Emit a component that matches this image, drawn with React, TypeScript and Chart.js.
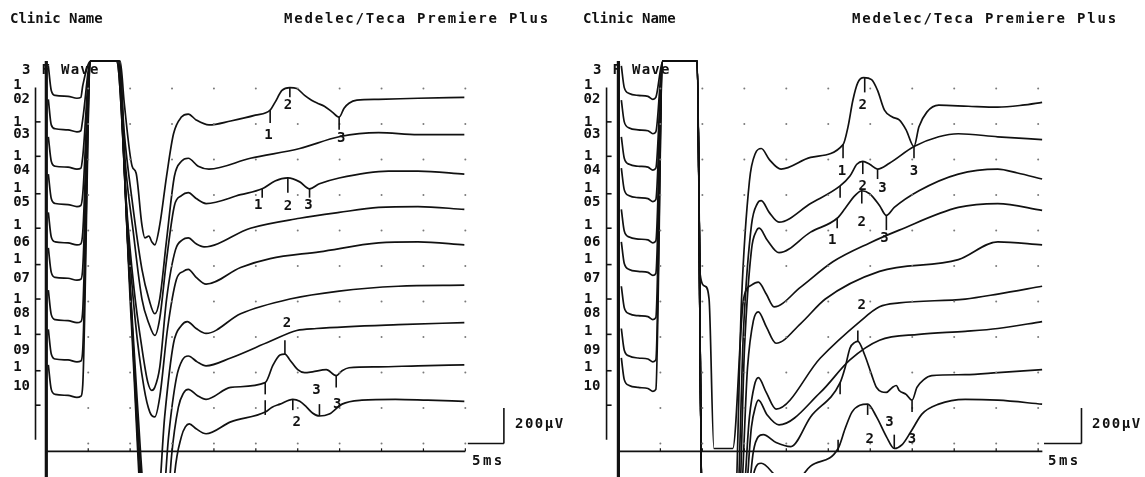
import React, { useEffect, useRef } from "react";
import { Chart, registerables } from "chart.js";
Chart.register(...registerables);

type P = [number, number];
type Marker = { t: number; from: number; to: number; label: string; lt: number; lv: number };

// ---------- LEFT RECORDING (time in ms, amplitude in µV on the stacked display) ----------
const leftTrace02: P[] = [[0.24,2127],[0.59,1989],[1.06,1961],[2.59,1956],[3.65,1945],[4.12,1950],[4.35,2017],[5.29,2155],[8.82,2155],[9.29,1922],[10.24,1562],[10.71,1524],[11.41,1230],[11.76,1158],[12.24,1169],[12.59,1136],[12.94,1119],[13.53,1230],[14.35,1507],[15.18,1745],[16.12,1839],[16.94,1856],[17.88,1823],[19.41,1795],[22.0,1817],[24.94,1850],[26.71,1878],[27.29,1922],[28.12,1989],[29.06,2005],[29.88,2000],[30.82,1961],[31.65,1934],[32.35,1917],[33.18,1900],[34.12,1867],[34.94,1839],[35.53,1889],[36.12,1917],[37.06,1934],[39.65,1939],[44.35,1945],[49.88,1950]];
const leftTrace03: P[] = [[0.24,1939],[0.59,1795],[1.06,1773],[2.59,1767],[3.65,1756],[4.12,1762],[4.35,1828],[5.29,2155],[8.71,2155],[9.29,1756],[10.24,1368],[11.41,981],[12.24,814],[12.94,731],[13.53,814],[14.35,1147],[15.29,1507],[16.12,1590],[16.94,1607],[18.12,1562],[19.41,1546],[24.35,1607],[30.24,1662],[34.94,1728],[39.65,1751],[44.35,1740],[49.88,1740]];
const leftTrace04: P[] = [[0.24,1728],[0.59,1590],[1.06,1562],[2.59,1557],[3.65,1546],[4.12,1551],[4.35,1618],[5.29,2155],[8.71,2155],[9.41,1590],[10.35,1202],[11.41,814],[12.24,676],[12.94,609],[13.53,704],[14.35,1036],[15.29,1341],[16.12,1396],[16.94,1413],[17.88,1380],[19.06,1352],[23.18,1402],[25.76,1435],[27.29,1479],[28.82,1496],[30.24,1474],[31.41,1435],[32.59,1463],[34.94,1496],[40.82,1535],[44.35,1535],[49.88,1518]];
const leftTrace05: P[] = [[0.24,1518],[0.59,1380],[1.06,1352],[2.59,1346],[3.65,1335],[4.12,1341],[4.35,1407],[5.29,2155],[8.59,2155],[9.53,1368],[10.47,870],[11.41,537],[12.12,343],[12.59,299],[12.94,316],[13.53,427],[14.35,814],[15.41,1091],[16.24,1147],[16.94,1158],[17.88,1125],[18.82,1108],[24.35,1213],[30.24,1269],[34.94,1302],[39.65,1330],[44.35,1335],[49.88,1319]];
const leftTrace06: P[] = [[0.24,1302],[0.59,1163],[1.06,1136],[2.59,1130],[3.65,1119],[4.12,1125],[4.35,1191],[5.29,2155],[8.59,2155],[9.65,1258],[10.59,704],[11.65,316],[12.35,177],[12.94,150],[13.53,260],[14.47,648],[15.53,925],[16.35,970],[16.94,981],[17.88,936],[19.06,898],[23.18,992],[26.71,1042],[32.59,1080],[39.65,1130],[44.35,1136],[49.88,1119]];
const leftTrace07: P[] = [[0.24,1102],[0.59,964],[1.06,936],[2.59,931],[3.65,920],[4.12,925],[4.35,992],[5.29,2155],[8.47,2155],[9.76,1091],[10.82,260],[12.0,-404],[13.18,-404],[14.12,150],[15.18,565],[16.12,665],[16.82,687],[17.88,648],[19.06,620],[23.18,731],[29.06,814],[34.94,859],[42.0,886],[49.88,892]];
const leftTrace08: P[] = [[0.24,864],[0.59,726],[1.06,698],[2.59,692],[3.65,681],[4.12,687],[4.35,753],[5.29,2155],[8.47,2155],[9.88,981],[11.06,-17],[12.24,-626],[13.41,-626],[14.59,39],[15.53,371],[16.24,471],[16.94,493],[18.0,460],[19.06,438],[22.0,482],[26.71,576],[29.88,637],[32.24,648],[42.0,670],[49.88,681]];
const leftTrace09: P[] = [[0.24,643],[0.59,504],[1.06,476],[2.59,471],[3.65,460],[4.12,465],[4.35,532],[5.29,2155],[8.35,2155],[10.0,870],[11.29,-294],[12.47,-848],[13.76,-848],[14.94,-72],[15.76,205],[16.35,283],[16.94,305],[18.0,271],[19.06,249],[22.0,316],[26.12,343],[27.06,443],[27.88,499],[28.47,504],[29.06,471],[30.0,416],[30.82,399],[31.76,404],[33.41,416],[34.59,382],[35.29,410],[36.12,427],[39.65,432],[44.35,438],[49.88,443]];
const leftTrace10: P[] = [[0.24,443],[0.59,305],[1.06,277],[2.59,271],[3.65,260],[4.12,266],[4.35,332],[5.29,2155],[8.35,2155],[10.12,704],[11.53,-571],[12.71,-1069],[14.12,-1069],[15.29,-183],[16.12,39],[16.59,94],[17.06,111],[17.88,83],[19.06,55],[22.0,122],[26.12,177],[26.94,205],[27.88,222],[29.41,249],[30.24,238],[31.06,205],[31.76,172],[32.59,155],[33.76,166],[35.29,222],[37.65,244],[41.65,249],[45.53,244],[49.88,238]];
const leftTraces = [leftTrace02, leftTrace03, leftTrace04, leftTrace05, leftTrace06, leftTrace07, leftTrace08, leftTrace09, leftTrace10];

const leftMarkers: Marker[] = [
  { t: 26.71, from: 1878, to: 1806, label: "1", lt: 26.5, lv: 1735 },
  { t: 29.06, from: 2005, to: 1950, label: "2", lt: 28.82, lv: 1906 },
  { t: 34.94, from: 1839, to: 1767, label: "3", lt: 35.18, lv: 1717 },
  { t: 25.76, from: 1435, to: 1385, label: "1", lt: 25.29, lv: 1341 },
  { t: 28.82, from: 1496, to: 1413, label: "2", lt: 28.82, lv: 1335 },
  { t: 31.41, from: 1435, to: 1385, label: "3", lt: 31.29, lv: 1341 },
  { t: 26.12, from: 343, to: 277, label: "", lt: 0, lv: 0 },
  { t: 28.47, from: 504, to: 582, label: "2", lt: 28.71, lv: 676 },
  { t: 34.59, from: 382, to: 316, label: "3", lt: 34.71, lv: 222 },
  { t: 26.12, from: 244, to: 161, label: "", lt: 0, lv: 0 },
  { t: 29.41, from: 249, to: 188, label: "2", lt: 29.88, lv: 122 },
  { t: 32.59, from: 155, to: 222, label: "3", lt: 32.24, lv: 299 },
];

// ---------- RIGHT RECORDING ----------
const rightTrace02: P[] = [[0.35,2127],[0.7,2005],[1.29,1972],[2.35,1961],[3.52,1956],[4.11,1939],[4.46,1950],[5.28,2155],[9.39,2155],[9.98,-404],[13.85,-404],[14.67,814],[15.61,1479],[16.31,1634],[17.02,1662],[17.96,1601],[19.37,1546],[22.89,1612],[26.76,1684],[27.35,1784],[27.93,1934],[28.52,2033],[29.23,2061],[30.16,2050],[30.87,1989],[31.69,1878],[32.63,1839],[33.45,1823],[34.27,1767],[35.21,1673],[35.8,1784],[36.74,1867],[38.15,1906],[41.67,1900],[45.19,1895],[48.12,1906],[50.47,1922]];
const rightTrace03: P[] = [[0.35,1934],[0.7,1812],[1.29,1778],[2.35,1767],[3.52,1762],[4.11,1745],[4.46,1756],[5.28,2155],[9.39,2155],[9.98,-404],[14.08,-404],[14.91,648],[15.85,1230],[16.55,1352],[17.02,1368],[17.96,1302],[19.13,1247],[22.89,1352],[26.41,1451],[27.58,1507],[28.4,1573],[29.11,1590],[29.93,1573],[30.87,1546],[32.28,1579],[35.21,1673],[38.15,1728],[40.49,1745],[45.19,1728],[50.47,1712]];
const rightTrace04: P[] = [[0.35,1728],[0.7,1607],[1.29,1573],[2.35,1562],[3.52,1557],[4.11,1540],[4.46,1551],[5.28,2155],[9.39,2155],[9.98,-404],[14.32,-404],[15.02,537],[15.85,1091],[16.43,1197],[16.78,1213],[17.72,1147],[19.13,1075],[22.89,1191],[26.06,1269],[27.0,1324],[28.17,1396],[28.99,1424],[29.93,1407],[31.1,1341],[31.92,1285],[32.86,1330],[35.8,1424],[40.49,1518],[45.19,1546],[47.54,1524],[50.47,1490]];
const rightTrace05: P[] = [[0.35,1551],[0.7,1429],[1.29,1396],[2.35,1385],[3.52,1380],[4.11,1363],[4.46,1374],[5.28,2155],[9.39,2155],[9.74,953],[10.33,886],[10.8,814],[11.38,-28],[13.62,-28],[14.91,814],[15.85,892],[16.67,909],[17.61,842],[18.54,770],[21.71,881],[25.59,1025],[29.93,1130],[33.45,1202],[40.49,1330],[45.19,1352],[50.47,1313]];
const rightTrace06: P[] = [[0.35,1319],[0.7,1197],[1.29,1163],[2.35,1152],[3.52,1147],[4.11,1130],[4.46,1141],[5.28,2155],[9.39,2155],[9.98,-404],[14.44,-404],[15.38,427],[16.08,692],[16.67,742],[17.61,659],[18.78,565],[21.71,676],[24.65,814],[31.1,970],[40.49,1036],[45.19,1136],[50.47,1119]];
const rightTrace07: P[] = [[0.35,1136],[0.7,1014],[1.29,981],[2.35,970],[3.52,964],[4.11,947],[4.46,959],[5.28,2155],[9.39,2155],[9.98,-404],[14.67,-404],[15.61,150],[16.2,327],[16.67,371],[17.61,288],[18.78,194],[24.06,482],[28.76,687],[31.1,770],[33.45,792],[41.31,814],[45.19,842],[50.47,886]];
const rightTrace08: P[] = [[0.35,886],[0.7,765],[1.29,731],[2.35,720],[3.52,715],[4.11,698],[4.46,709],[5.28,2155],[9.39,2155],[9.98,-404],[14.91,-404],[15.85,94],[16.31,205],[16.67,244],[17.72,161],[19.13,105],[24.06,288],[27.58,471],[31.1,582],[35.8,615],[41.31,632],[45.19,648],[50.47,687]];
const rightTrace09: P[] = [[0.35,648],[0.7,526],[1.29,493],[2.35,482],[3.52,476],[4.11,460],[4.46,471],[5.28,2155],[9.39,2155],[9.98,-404],[15.14,-404],[16.08,-44],[16.67,39],[17.25,50],[18.78,6],[20.54,-17],[22.89,150],[26.41,343],[27.0,427],[27.58,537],[28.17,570],[28.52,576],[29.34,499],[30.16,388],[30.75,316],[31.92,288],[32.63,316],[33.1,327],[33.45,299],[34.27,277],[34.98,244],[35.56,316],[36.38,360],[37.32,382],[41.31,388],[45.19,399],[50.47,416]];
const rightTrace10: P[] = [[0.35,482],[0.7,360],[1.29,327],[2.35,316],[3.52,310],[4.11,294],[4.46,305],[5.28,2155],[9.39,2155],[9.98,-404],[15.38,-404],[16.2,-155],[17.02,-111],[18.78,-183],[20.54,-238],[22.89,-127],[26.17,-28],[27.0,83],[27.82,177],[28.76,216],[29.69,222],[30.75,150],[31.92,39],[32.86,-28],[33.8,-6],[34.98,78],[36.15,166],[38.15,222],[41.31,249],[45.19,244],[50.47,222]];
const rightTraces = [rightTrace02, rightTrace03, rightTrace04, rightTrace05, rightTrace06, rightTrace07, rightTrace08, rightTrace09, rightTrace10];

const rightMarkers: Marker[] = [
  { t: 26.76, from: 1684, to: 1607, label: "1", lt: 26.64, lv: 1535 },
  { t: 29.34, from: 2061, to: 1978, label: "2", lt: 29.11, lv: 1906 },
  { t: 35.21, from: 1673, to: 1607, label: "3", lt: 35.21, lv: 1535 },
  { t: 26.41, from: 1451, to: 1385, label: "", lt: 0, lv: 0 },
  { t: 29.11, from: 1590, to: 1518, label: "2", lt: 29.11, lv: 1451 },
  { t: 30.87, from: 1546, to: 1490, label: "3", lt: 31.46, lv: 1440 },
  { t: 26.06, from: 1269, to: 1213, label: "1", lt: 25.47, lv: 1147 },
  { t: 28.99, from: 1424, to: 1352, label: "2", lt: 28.99, lv: 1247 },
  { t: 31.92, from: 1285, to: 1202, label: "3", lt: 31.69, lv: 1158 },
  { t: 26.41, from: 343, to: 277, label: "", lt: 0, lv: 0 },
  { t: 28.52, from: 576, to: 637, label: "2", lt: 28.99, lv: 776 },
  { t: 34.98, from: 244, to: 177, label: "3", lt: 34.98, lv: 22 },
  { t: 26.17, from: 22, to: -44, label: "", lt: 0, lv: 0 },
  { t: 29.69, from: 222, to: 161, label: "2", lt: 29.93, lv: 22 },
  { t: 32.86, from: -28, to: 50, label: "3", lt: 32.28, lv: 122 },
];

// ---------- shared axis / label values ----------
const channelNames = ["02", "03", "04", "05", "06", "07", "08", "09", "10"];
const channelNameLevels = [1939, 1740, 1540, 1357, 1136, 931, 731, 526, 321];
const channelPrefixLevels = [2016, 1812, 1618, 1435, 1230, 1036, 814, 631, 427];
const axisTickLevels = [1812, 1618, 1407, 1213, 1008, 814, 615, 410, 216];
const gridTimes = [5, 10, 15, 20, 25, 30, 35, 40, 45, 50];
const gridLevels = [0, 200, 400, 600, 800, 1000, 1200, 1400, 1600, 1800, 2000];
const clipLevel = 2155;
const axisTopLevel = 2005;
const axisBottomLevel = 22;
const timeBaseLevel = -44;
const scaleBarAmplitude = 200;
const headerLeft = "Clinic Name";
const headerRight = "Medelec/Teca Premiere Plus";
const protocolLabel = "3 F Wave";
const amplitudeLabel = "200µV";
const timeLabel = "5ms";

const INK = "#111111";
const FONT = 'bold 14px "DejaVu Sans Mono", monospace';

type Panel = {
  traces: P[][];
  markers: Marker[];
  width: number;
  axisTime: number;
  baseEnd: number;
  barTime: number;
  barStart: number;
  prefixT: number;
  nameT: number;
  headerX: [number, number];
  fwaveX: number;
  uvX: number;
  msX: number;
};

const panels: Panel[] = [
  { traces: leftTraces, markers: leftMarkers, width: 572, axisTime: -1.29, baseEnd: 50.0, barTime: 54.6, barStart: 50.3, prefixT: -3.45, nameT: -2.95, headerX: [10, 284], fwaveX: 22, uvX: 515, msX: 472 },
  { traces: rightTraces, markers: rightMarkers, width: 573, axisTime: -1.41, baseEnd: 50.5, barTime: 55.16, barStart: 50.7, prefixT: -3.6, nameT: -3.15, headerX: [11, 280], fwaveX: 21, uvX: 520, msX: 476 },
];

function makeDecor(p: Panel) {
  return {
    id: "decor",
    afterDatasetsDraw(chart: any) {
      const ctx: CanvasRenderingContext2D = chart.ctx;
      const xs = chart.scales.x;
      const ys = chart.scales.y;
      const X = (t: number) => xs.getPixelForValue(t);
      const Y = (v: number) => ys.getPixelForValue(v);
      const seg = (x1: number, y1: number, x2: number, y2: number, w: number) => {
        ctx.lineWidth = w;
        ctx.beginPath();
        ctx.moveTo(x1, y1);
        ctx.lineTo(x2, y2);
        ctx.stroke();
      };
      ctx.save();
      ctx.strokeStyle = INK;
      ctx.fillStyle = INK;
      // stimulus line
      seg(X(0), Y(clipLevel), X(0), chart.height + 2, 3.2);
      // channel axis
      seg(X(p.axisTime), Y(axisTopLevel), X(p.axisTime), Y(axisBottomLevel), 1.6);
      axisTickLevels.forEach((v) => seg(X(p.axisTime), Y(v), X(p.axisTime + 0.6), Y(v), 1.6));
      // time base
      seg(X(0), Y(timeBaseLevel), X(p.baseEnd), Y(timeBaseLevel), 1.6);
      gridTimes.forEach((t) => seg(X(t), Y(timeBaseLevel), X(t), Y(timeBaseLevel) - 3, 1.2));
      // calibration bar
      seg(X(p.barTime), Y(0), X(p.barTime), Y(scaleBarAmplitude), 1.6);
      seg(X(p.barStart), Y(0), X(p.barTime), Y(0), 1.6);
      // latency markers
      p.markers.forEach((m) => seg(X(m.t), Y(m.from), X(m.t), Y(m.to), 1.6));
      ctx.font = FONT;
      ctx.textBaseline = "middle";
      ctx.textAlign = "center";
      p.markers.forEach((m) => {
        if (m.label) ctx.fillText(m.label, X(m.lt), Y(m.lv));
      });
      // channel labels
      channelNames.forEach((n, i) => {
        ctx.fillText("1", X(p.prefixT), Y(channelPrefixLevels[i]));
        ctx.fillText(n, X(p.nameT), Y(channelNameLevels[i]));
      });
      // header + annotations
      ctx.textAlign = "left";
      const withSpacing = (s: string, x: number, y: number, sp: number) => {
        (ctx as any).letterSpacing = sp + "px";
        ctx.fillText(s, x, y);
        (ctx as any).letterSpacing = "0px";
      };
      withSpacing(headerLeft, p.headerX[0], 19, 0);
      withSpacing(headerRight, p.headerX[1], 19, 1.8);
      withSpacing(protocolLabel, p.fwaveX, 70, 1.3);
      withSpacing(amplitudeLabel, p.uvX, 424, 1.5);
      withSpacing(timeLabel, p.msX, 461, 2.5);
      ctx.restore();
    },
  };
}

function PanelChart({ p }: { p: Panel }) {
  const ref = useRef<HTMLCanvasElement | null>(null);
  useEffect(() => {
    if (!ref.current) return;
    const dots: { x: number; y: number }[] = [];
    gridTimes.forEach((t) => gridLevels.forEach((v) => dots.push({ x: t, y: v })));
    const chart = new Chart(ref.current, {
      type: "line",
      data: {
        datasets: [
          {
            data: dots,
            showLine: false,
            pointRadius: 1,
            pointBorderWidth: 0,
            pointBackgroundColor: "#7a7a7a",
            pointBorderColor: "#7a7a7a",
          } as any,
          ...p.traces.map((tr) => ({
            data: tr.map(([x, y]) => ({ x, y })),
            borderColor: INK,
            borderWidth: 1.7,
            pointRadius: 0,
            fill: false,
            cubicInterpolationMode: "monotone" as const,
          })),
        ],
      },
      options: {
        animation: false,
        responsive: false,
        events: [],
        layout: { padding: 0 },
        plugins: { legend: { display: false }, tooltip: { enabled: false } },
        scales: {
          x: { type: "linear", min: -5.05, max: 62.25, display: false },
          y: { type: "linear", min: -166, max: 2476, display: false },
        },
      },
      plugins: [makeDecor(p)],
    });
    return () => chart.destroy();
  }, [p]);
  return <canvas ref={ref} width={p.width} height={477} style={{ display: "block", width: p.width, height: 477 }} />;
}

export default function App() {
  return (
    <div style={{ position: "fixed", left: 0, top: 0, width: 1145, height: 477, background: "#fff", display: "flex" }}>
      {panels.map((p, i) => (
        <PanelChart key={i} p={p} />
      ))}
    </div>
  );
}
